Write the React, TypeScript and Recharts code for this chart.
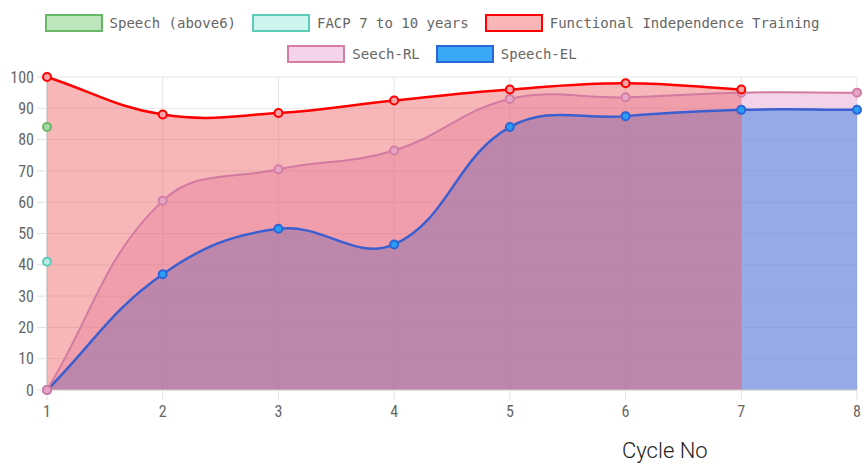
import { ComposedChart, Area, Line, XAxis, YAxis, CartesianGrid } from "recharts";

const cycles = ["1", "2", "3", "4", "5", "6", "7", "8"];
const speechAbove6 = [84, null, null, null, null, null, null, null];
const facp = [41, null, null, null, null, null, null, null];
const independence = [100, 88, 88.5, 92.5, 96, 98, 96, null];
const seechRL = [0, 60.5, 70.5, 76.5, 93, 93.5, 95, 95];
const speechEL = [0, 37, 51.5, 46.5, 84, 87.5, 89.5, 89.5];
const yTicks = [0, 10, 20, 30, 40, 50, 60, 70, 80, 90, 100];

const legendItems = [
    { name: "Speech (above6)", fill: "#bde6bd", border: "#66b866" },
    { name: "FACP 7 to 10 years", fill: "#ccf5ef", border: "#5ccbb8" },
    { name: "Functional Independence Training", fill: "#f8b6b8", border: "#ff0000" },
    { name: "Seech-RL", fill: "#f5d3ea", border: "#d57ea4" },
    { name: "Speech-EL", fill: "#3aa8f7", border: "#2a66d8" },
];

const data = cycles.map((cycle, i) => ({
    cycle,
    speechAbove6: speechAbove6[i],
    facp: facp[i],
    independence: independence[i],
    seechRL: seechRL[i],
    speechEL: speechEL[i],
}));

// bezier spline like the one chart.js draws (tension 0.4)
const TENSION = 0.4;
function splineCurve(context: any) {
    let pts: [number, number][] = [];
    let line = NaN;
    return {
        areaStart() {
            line = 0;
        },
        areaEnd() {
            line = NaN;
        },
        lineStart() {
            pts = [];
        },
        point(x: number, y: number) {
            pts.push([+x, +y]);
        },
        lineEnd() {
            const n = pts.length;
            if (n > 0) {
                if (line) context.lineTo(pts[0][0], pts[0][1]);
                else context.moveTo(pts[0][0], pts[0][1]);
                if (n > 1) {
                    const cps = pts.map((p, i) => {
                        const prev = pts[i - 1] ?? p;
                        const next = pts[i + 1] ?? p;
                        const d01 = Math.hypot(p[0] - prev[0], p[1] - prev[1]);
                        const d12 = Math.hypot(next[0] - p[0], next[1] - p[1]);
                        const sum = d01 + d12;
                        const fa = sum ? (TENSION * d01) / sum : 0;
                        const fb = sum ? (TENSION * d12) / sum : 0;
                        const dx = next[0] - prev[0];
                        const dy = next[1] - prev[1];
                        return {
                            px: p[0] - fa * dx,
                            py: p[1] - fa * dy,
                            nx: p[0] + fb * dx,
                            ny: p[1] + fb * dy,
                        };
                    });
                    for (let i = 1; i < n; i++) {
                        context.bezierCurveTo(
                            cps[i - 1].nx,
                            cps[i - 1].ny,
                            cps[i].px,
                            cps[i].py,
                            pts[i][0],
                            pts[i][1]
                        );
                    }
                }
            }
            if (line || (line !== 0 && n === 1)) context.closePath();
            line = 1 - line;
        },
    };
}

const tickStyle = {
    fontFamily: "'Liberation Sans Narrow', 'Roboto Condensed', Roboto, sans-serif",
    fontSize: 16,
    fill: "#666",
};

const Legend = () => {
    const rows = [legendItems.slice(0, 3), legendItems.slice(3)];
    return (
        <div style={{ position: "absolute", left: 0, top: 14, width: 864 }}>
            {rows.map((row, r) => (
                <div
                    key={r}
                    style={{
                        display: "flex",
                        justifyContent: "center",
                        gap: 16,
                        height: 18,
                        marginBottom: 13,
                    }}
                >
                    {row.map((item) => (
                        <div key={item.name} style={{ display: "flex", alignItems: "center", gap: 7 }}>
                            <div
                                style={{
                                    boxSizing: "border-box",
                                    width: 58,
                                    height: 18,
                                    background: item.fill,
                                    border: `2px solid ${item.border}`,
                                }}
                            />
                            <span
                                style={{
                                    fontFamily: "'DejaVu Sans Mono', monospace",
                                    fontSize: 14,
                                    color: "#666",
                                    whiteSpace: "pre",
                                    lineHeight: "18px",
                                }}
                            >
                                {item.name}
                            </span>
                        </div>
                    ))}
                </div>
            ))}
        </div>
    );
};

export default function App() {
    return (
        <div style={{ position: "absolute", left: 0, top: 0, width: 864, height: 467, background: "#fff" }}>
            <ComposedChart
                width={864}
                height={467}
                data={data}
                margin={{ top: 77, right: 7, bottom: 0, left: 0 }}
            >
                <CartesianGrid stroke="#e6e6e6" vertical horizontal />
                <XAxis
                    dataKey="cycle"
                    height={77}
                    tick={tickStyle}
                    tickSize={10}
                    tickMargin={6}
                    tickLine={{ stroke: "#e0e0e0" }}
                    axisLine={{ stroke: "#cfcfcf" }}
                />
                <YAxis
                    width={47}
                    domain={[0, 100]}
                    ticks={yTicks}
                    interval={0}
                    tick={tickStyle}
                    tickSize={10}
                    tickMargin={3}
                    tickLine={{ stroke: "#e0e0e0" }}
                    axisLine={{ stroke: "#bdbdbd" }}
                />
                <Area
                    dataKey="speechEL"
                    type={splineCurve as any}
                    stroke="none"
                    fill="rgb(33,157,250)"
                    fillOpacity={0.6}
                    dot={false}
                    activeDot={false}
                    isAnimationActive={false}
                />
                <Area
                    dataKey="seechRL"
                    type={splineCurve as any}
                    stroke="none"
                    fill="rgb(215,108,185)"
                    fillOpacity={0.3}
                    dot={false}
                    activeDot={false}
                    isAnimationActive={false}
                />
                <Area
                    dataKey="independence"
                    type={splineCurve as any}
                    stroke="none"
                    fill="rgb(237,93,97)"
                    fillOpacity={0.45}
                    dot={false}
                    activeDot={false}
                    isAnimationActive={false}
                />
                <Line
                    dataKey="speechEL"
                    type={splineCurve as any}
                    stroke="#3a5fd0"
                    strokeWidth={2.5}
                    dot={{ r: 4, strokeWidth: 2, fill: "#2a9df4", stroke: "#2a66d8" }}
                    activeDot={false}
                    isAnimationActive={false}
                />
                <Line
                    dataKey="seechRL"
                    type={splineCurve as any}
                    stroke="#d27aa0"
                    strokeWidth={2}
                    dot={{ r: 4, strokeWidth: 2, fill: "#e6a6c6", stroke: "#d57ea4" }}
                    activeDot={false}
                    isAnimationActive={false}
                />
                <Line
                    dataKey="independence"
                    type={splineCurve as any}
                    stroke="#ff0000"
                    strokeWidth={2.5}
                    dot={{ r: 4, strokeWidth: 2, fill: "#f6a5a8", stroke: "#ff0000" }}
                    activeDot={false}
                    isAnimationActive={false}
                />
                <Line
                    dataKey="facp"
                    type={splineCurve as any}
                    stroke="#5ccbb8"
                    strokeWidth={2}
                    dot={{ r: 4, strokeWidth: 2, fill: "#b8ebe2", stroke: "#5ccbb8" }}
                    activeDot={false}
                    isAnimationActive={false}
                />
                <Line
                    dataKey="speechAbove6"
                    type={splineCurve as any}
                    stroke="#66b866"
                    strokeWidth={2}
                    dot={{ r: 4, strokeWidth: 2, fill: "#a9d9a9", stroke: "#66b866" }}
                    activeDot={false}
                    isAnimationActive={false}
                />
            </ComposedChart>
            <Legend />
            <div
                style={{
                    position: "absolute",
                    left: 622,
                    top: 440,
                    fontFamily: "Roboto, sans-serif",
                    fontWeight: 300,
                    fontSize: 22,
                    lineHeight: "22px",
                    color: "#222",
                    whiteSpace: "nowrap",
                }}
            >
                Cycle No
            </div>
        </div>
    );
}
